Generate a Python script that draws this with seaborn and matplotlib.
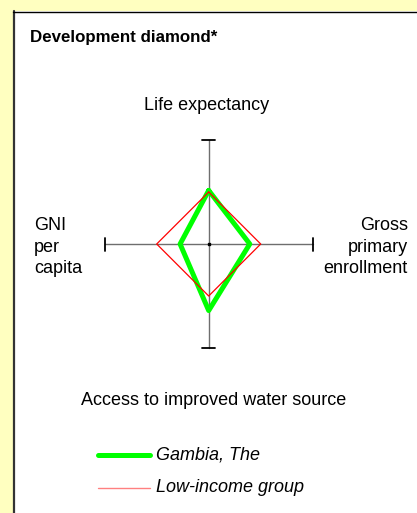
"""
Development diamond: Gambia, The vs. Low-income group.
"""

import matplotlib
matplotlib.use("Agg")
import matplotlib.pyplot as plt
from matplotlib.lines import Line2D
from matplotlib.patches import Rectangle
import seaborn as sns
import pandas as pd

# Dados (eixo: 1.0 = media do grupo de baixa renda)
indicators = ["Life expectancy", "Gross primary enrollment",
              "Access to improved water source", "GNI per capita"]
gambia_values = [1.03, 0.79, 1.28, 0.55]
low_income_values = [1.0, 1.0, 1.0, 1.0]
series_names = ["Gambia, The", "Low-income group"]
axis_extent = 2.0

# Configuracao de estilo
sns.set_theme(style="white")
plt.rcParams['font.family'] = ['Liberation Sans', 'DejaVu Sans']

W, H = 417, 513
YELLOW = '#FFFFC0'


def fx(x):
    return x / W


def fy(y):
    return 1 - y / H


def diamond_frame(values, name):
    # ordem: cima, direita, baixo, esquerda, fecha
    top, right, bottom, left = values
    xs = [0, right, 0, -left, 0]
    ys = [top, 0, -bottom, 0, top]
    return pd.DataFrame({'x': xs, 'y': ys, 'serie': name, 'ordem': range(5)})


fig = plt.figure(figsize=(W / 100, H / 100), dpi=100, facecolor=YELLOW)

# Painel branco com borda
fig.add_artist(Rectangle((fx(13), -0.1), 1.2, fy(11) + 0.1, transform=fig.transFigure,
                         facecolor='white', edgecolor='none', zorder=0))
fig.add_artist(Line2D([fx(14), fx(14)], [-0.1, fy(11)], transform=fig.transFigure,
                      color='#333333', linewidth=1.6, zorder=1))
fig.add_artist(Line2D([fx(13), 1.1], [fy(11.5), fy(11.5)], transform=fig.transFigure,
                      color='black', linewidth=1.0, zorder=1))

# Eixos do diamante
cx, cy = 208.7, 244.0
unit = 52.0
lim = 2.2
half = lim * unit
ax = fig.add_axes([fx(cx - half), fy(cy + half), 2 * half / W, 2 * half / H])
ax.set_xlim(-lim, lim)
ax.set_ylim(-lim, lim)
ax.axis('off')
ax.patch.set_alpha(0)

ax.plot([-axis_extent, axis_extent], [0, 0], color='#6e6e6e', linewidth=1.0, zorder=1)
ax.plot([0, 0], [-axis_extent, axis_extent], color='#6e6e6e', linewidth=1.0, zorder=1)
cap = 0.125
for sx in (-axis_extent, axis_extent):
    ax.plot([sx, sx], [-cap, cap], color='black', linewidth=1.3, zorder=1)
for sy in (-axis_extent, axis_extent):
    ax.plot([-cap, cap], [sy, sy], color='black', linewidth=1.3, zorder=1)
ax.plot([0], [0], marker='s', markersize=1.5, color='black', zorder=1)

df_gambia = diamond_frame(gambia_values, series_names[0])
df_low = diamond_frame(low_income_values, series_names[1])

sns.lineplot(data=df_gambia, x='x', y='y', sort=False, estimator=None, color='#00FF00',
             linewidth=3.6, ax=ax, zorder=2, legend=False)
sns.lineplot(data=df_low, x='x', y='y', sort=False, estimator=None, color='#FF0000',
             linewidth=0.9, ax=ax, zorder=3, legend=False)
ax.set_xlabel('')
ax.set_ylabel('')

# Textos
fs = 13
fig.text(fx(30.5), fy(41.7), 'Development diamond*', fontsize=12.2, fontweight='bold',
         ha='left', va='baseline', color='black')
fig.text(fx(207), fy(109.5), indicators[0], fontsize=fs, ha='center', va='baseline', color='black')
fig.text(fx(213.5), fy(405), indicators[2], fontsize=fs, ha='center', va='baseline', color='black')

for txt, base in zip(['GNI', 'per', 'capita'], [230, 251.5, 273]):
    fig.text(fx(34), fy(base), txt, fontsize=fs, ha='left', va='baseline', color='black')
for txt, base in zip(['Gross', 'primary', 'enrollment'], [230, 251.5, 273]):
    fig.text(fx(408), fy(base), txt, fontsize=fs, ha='right', va='baseline', color='black')

# Legenda
fig.add_artist(Line2D([fx(98), fx(150)], [fy(455), fy(455)], transform=fig.transFigure,
                      color='#00FF00', linewidth=3.6, solid_capstyle='round'))
fig.add_artist(Line2D([fx(98), fx(150)], [fy(487.5), fy(487.5)], transform=fig.transFigure,
                      color='#FF8080', linewidth=1.0))
fig.text(fx(156), fy(455), series_names[0], fontsize=fs, style='italic',
         ha='left', va='center', color='black')
fig.text(fx(156), fy(487.5), series_names[1], fontsize=fs, style='italic',
         ha='left', va='center', color='black')

fig.savefig('out.png', dpi=100, facecolor=YELLOW)
plt.close(fig)
